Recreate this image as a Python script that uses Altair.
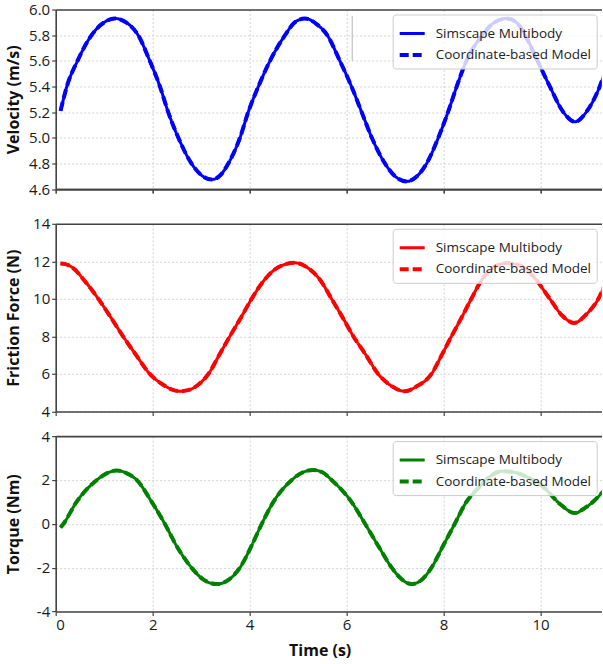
import altair as alt
import pandas as pd

MODELS = ["Simscape Multibody", "Coordinate-based Model"]

vel_t = [0.10, 0.23, 0.45, 0.74, 1.00, 1.22, 1.45, 1.70, 1.94, 2.15, 2.32, 2.53, 2.80, 3.00, 3.22,
         3.40, 3.56, 3.80, 3.97, 4.18, 4.42, 4.73, 4.93, 5.14, 5.40, 5.60, 5.86, 6.10, 6.31, 6.52,
         6.79, 7.00, 7.24, 7.45, 7.65, 7.89, 8.09, 8.27, 8.47, 8.80, 9.05, 9.30, 9.50, 9.68, 9.95,
         10.19, 10.47, 10.71, 10.94, 11.22, 11.30]
vel_v = [5.21, 5.40, 5.60, 5.80, 5.90, 5.93, 5.90, 5.80, 5.60, 5.40, 5.20, 5.00, 4.80, 4.71, 4.675,
         4.71, 4.80, 5.00, 5.20, 5.40, 5.60, 5.80, 5.90, 5.93, 5.88, 5.80, 5.60, 5.40, 5.20, 5.00,
         4.80, 4.70, 4.66, 4.70, 4.80, 5.00, 5.20, 5.40, 5.60, 5.80, 5.90, 5.93, 5.90, 5.80, 5.59,
         5.40, 5.20, 5.125, 5.20, 5.40, 5.48]

force_t = [0.10, 0.20, 0.36, 0.60, 0.88, 1.14, 1.39, 1.66, 1.94, 2.20, 2.40, 2.56, 2.75, 2.95, 3.15,
           3.37, 3.59, 3.82, 4.04, 4.30, 4.60, 4.93, 5.20, 5.45, 5.69, 5.92, 6.14, 6.40, 6.65, 6.90,
           7.20, 7.45, 7.75, 7.96, 8.16, 8.37, 8.57, 8.81, 9.05, 9.30, 9.55, 9.85, 10.19, 10.45, 10.69,
           10.95, 11.19, 11.30]
force_v = [11.88, 11.85, 11.64, 10.95, 10.0, 9.0, 8.0, 7.0, 6.0, 5.45, 5.17, 5.08, 5.15, 5.45, 6.0,
           7.0, 8.0, 9.0, 10.0, 11.0, 11.7, 11.92, 11.65, 11.02, 10.0, 9.0, 8.0, 7.0, 6.0, 5.4,
           5.08, 5.35, 6.0, 7.0, 8.0, 9.0, 10.0, 11.1, 11.7, 11.9, 11.8, 11.2, 10.0, 9.1, 8.72,
           9.2, 10.0, 10.6]

torque_t = [0.10, 0.16, 0.43, 0.85, 1.05, 1.26, 1.47, 1.67, 1.98, 2.25, 2.49, 2.80, 3.05, 3.32, 3.57,
            3.80, 4.04, 4.25, 4.49, 4.87, 5.08, 5.31, 5.50, 5.69, 6.10, 6.38, 6.65, 6.93, 7.12, 7.34,
            7.55, 7.75, 7.99, 8.23, 8.47, 8.71, 8.95, 9.20, 9.45, 9.75, 10.09, 10.40, 10.71, 10.90, 11.08,
            11.30]
torque_v = [-0.17, 0.0, 1.0, 2.0, 2.3, 2.43, 2.3, 2.0, 1.0, 0.0, -1.0, -2.0, -2.55, -2.75, -2.55,
            -2.0, -1.0, 0.0, 1.0, 2.0, 2.33, 2.45, 2.35, 2.0, 1.0, 0.0, -1.0, -2.0, -2.5, -2.75,
            -2.55, -2.0, -1.0, 0.0, 1.0, 1.61, 2.15, 2.4, 2.35, 2.1, 1.61, 0.9, 0.49, 0.7, 1.0,
            1.5]

x_ticks = [0, 2, 4, 6, 8, 10]
vel_ticks = [4.6, 4.8, 5.0, 5.2, 5.4, 5.6, 5.8, 6.0]
force_ticks = [4, 6, 8, 10, 12, 14]
torque_ticks = [-4, -2, 0, 2, 4]

# stray grey vertical stroke visible in the top panel
stray_t = [6.115]
stray_lo = [5.60]
stray_hi = [5.95]

FONT = "Open Sans"
W = 546
X_MAX = 11.26
AX = "#444444"


def panel(t, v, color, ytitle, ydomain, yticks, height, yfmt, xmode):
    df = pd.concat([pd.DataFrame({"t": t, "v": v, "model": m}) for m in MODELS], ignore_index=True)
    xscale = alt.Scale(domain=[0, X_MAX], nice=False, zero=False)
    yscale = alt.Scale(domain=ydomain, nice=False, zero=False)
    if xmode == "bottom":
        xaxis = alt.Axis(orient="bottom", values=x_ticks, title="Time (s)", labels=True,
                         titleFontSize=16, titleFontWeight="bold", titlePadding=10,
                         titleX=W / 2 - 9)
    elif xmode == "gap":
        xaxis = alt.Axis(orient="bottom", values=x_ticks, labels=False, title=" ",
                         titleFontSize=12, titlePadding=2)
    else:
        xaxis = alt.Axis(orient="bottom", values=x_ticks, labels=False, title=None)
    yaxis = alt.Axis(values=yticks, title=ytitle, titleX=-34, titleY=height / 2,
                     titleBaseline="bottom", titleAngle=-90, titleAlign="center",
                     titleFontSize=16, titleFontWeight="bold",
                     labelExpr=yfmt)
    lines = alt.Chart(df).mark_line(color=color, interpolate="monotone", clip=True).encode(
        x=alt.X("t:Q", scale=xscale, axis=xaxis),
        y=alt.Y("v:Q", scale=yscale, axis=yaxis),
        strokeDash=alt.StrokeDash(
            "model:N",
            scale=alt.Scale(domain=MODELS, range=[[1, 0], [9, 4]]),
            legend=alt.Legend(title=None, orient="top-right", offset=5,
                              fillColor="rgba(255,255,255,0.8)", strokeColor="#cccccc",
                              cornerRadius=3, padding=5, symbolType="stroke",
                              symbolSize=625, symbolStrokeWidth=3, symbolStrokeColor=color,
                              labelFont=FONT, labelFontSize=13.5, labelColor="#222222",
                              labelOffset=9, labelLimit=300, rowPadding=-2),
        ),
        strokeWidth=alt.StrokeWidth("model:N", scale=alt.Scale(domain=MODELS, range=[3, 4]),
                                    legend=None),
    )
    top = alt.Chart(pd.DataFrame({"t": [0.0]})).mark_rule(opacity=0).encode(
        x=alt.X("t:Q", scale=xscale,
                axis=alt.Axis(orient="top", labels=False, ticks=False, grid=False,
                              title=None, domain=True)),
    )
    layers = [lines, top]
    if xmode == "gap":
        sdf = pd.DataFrame({"t": stray_t, "v": stray_lo, "hi": stray_hi})
        stray = alt.Chart(sdf).mark_rule(color="#b5b5b5", strokeWidth=1).encode(
            x=alt.X("t:Q", scale=xscale, axis=xaxis),
            y=alt.Y("v:Q", scale=yscale, axis=yaxis),
            y2="hi:Q")
        layers.append(stray)
    return alt.layer(*layers).properties(width=W, height=height)


p1 = panel(vel_t, vel_v, "#0000ff", "Velocity (m/s)", [4.6, 6.0], vel_ticks, 179.6,
           "format(datum.value, '.1f')", "gap")
p2 = panel(force_t, force_v, "#ff0000", "Friction Force (N)", [4, 14], force_ticks, 187.7,
           "datum.value + ''", "none")
p3 = panel(torque_t, torque_v, "#008000", "Torque (Nm)", [-4, 4], torque_ticks, 175.4,
           "datum.value + ''", "bottom")

chart = alt.vconcat(p1, p2, p3, spacing=9.3).resolve_scale(
    strokeDash="independent", strokeWidth="independent"
).resolve_legend(strokeDash="independent").properties(
    padding={"left": 5.7, "top": 2.5, "right": 0, "bottom": 2}
).configure_view(stroke=None).configure_axis(
    labelFont=FONT, titleFont=FONT, labelFontSize=15, labelColor="#1a1a1a", titleColor="#111111",
    domainColor=AX, domainWidth=1.6, tickColor=AX, tickWidth=1.2, tickSize=4, labelPadding=2,
    gridColor="#c8c8c8", gridDash=[2, 2], gridWidth=0.8,
).configure_legend(labelFont=FONT)

chart.save("out.html", embed_options={"renderer": "svg", "actions": False})
